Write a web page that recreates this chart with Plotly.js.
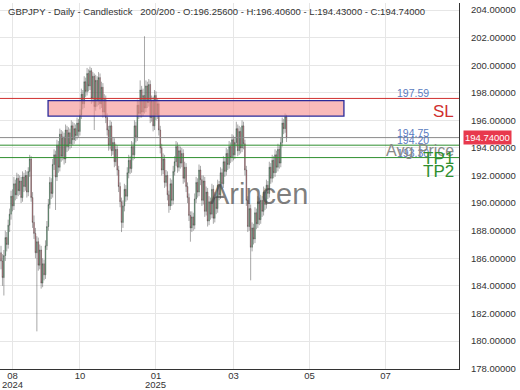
<!DOCTYPE html>
<html>
<head>
<meta charset="utf-8">
<script src="https://cdn.plot.ly/plotly-3.0.1.min.js"></script>
<style>html,body{margin:0;padding:0;background:#fff;}#chart{width:520px;height:390px;}</style>
</head>
<body>
<div id="chart"></div>
<script>
const open = [
186.4,185.8,184.6,186.2,187.5,187.0,188.4,189.2,190.5,189.8,
191.4,190.6,191.8,190.9,191.6,190.4,191.9,191.2,192.0,190.8,
192.3,193.2,190.4,188.6,187.8,186.4,187.2,185.5,186.6,184.2,
185.6,184.8,186.9,188.3,189.9,191.5,190.7,192.8,193.5,191.9,
194.2,192.6,195.0,193.4,194.8,193.2,195.3,194.1,195.1,194.3,
195.6,194.6,195.4,194.9,195.8,195.2,196.4,197.9,197.2,198.8,
198.1,199.4,198.5,199.6,197.6,199.2,197.0,198.9,197.4,199.1,
197.2,198.4,196.6,197.5,196.2,195.3,194.2,195.6,193.8,194.4,
193.0,193.9,192.4,191.2,190.1,188.6,189.8,191.0,190.5,192.2,
193.1,192.5,194.1,193.5,195.6,194.8,197.1,196.5,198.2,196.6,
197.8,196.9,198.5,197.3,198.6,196.2,197.4,195.6,197.8,196.4,
197.2,195.3,194.0,192.4,193.2,191.5,192.0,190.6,189.8,191.4,
190.2,192.3,193.0,194.1,192.6,193.8,192.9,193.6,191.8,192.6,
191.2,190.4,189.1,188.2,189.0,188.4,190.3,191.5,190.8,192.4,
191.7,190.2,191.6,189.4,190.8,188.7,190.1,189.2,191.0,188.9,
190.4,189.6,191.3,190.6,192.2,191.4,193.0,192.3,193.6,192.8,
194.1,193.3,194.6,193.5,194.4,195.4,193.8,195.2,194.0,195.6,
194.3,192.4,190.2,188.3,189.6,186.8,188.2,187.4,189.3,188.5,
190.1,188.8,190.2,189.4,190.8,189.9,191.3,190.7,192.6,191.8,
193.1,192.2,193.5,192.6,193.9,192.9,194.4,195.8,195.4,196.256];
const high = [
186.9,186.3,186.6,188.0,187.9,188.8,189.6,190.9,191.0,191.9,
191.7,192.2,192.1,192.0,191.9,192.3,192.2,192.4,192.3,192.6,
193.5,193.4,190.8,189.1,188.2,187.6,187.5,187.0,186.9,186.0,
185.9,187.3,188.7,190.3,191.9,191.8,193.2,193.9,193.8,194.6,
194.5,195.4,195.3,195.2,195.1,195.7,195.6,195.5,195.4,196.0,
195.9,195.8,195.7,196.2,196.1,196.8,198.3,198.2,199.2,199.1,
199.8,199.7,199.9,199.8,199.5,199.4,199.3,199.2,199.5,199.4,
198.8,198.7,197.9,197.8,196.5,195.6,196.0,195.9,194.8,194.7,
194.3,194.2,192.7,191.5,190.4,190.2,191.4,191.3,192.6,193.5,
193.4,194.5,194.4,196.0,195.9,197.5,197.4,198.9,198.5,198.3,
202.1,198.9,198.8,199.0,198.9,197.8,197.7,198.2,198.1,197.6,
197.5,195.6,194.3,193.6,193.5,192.4,192.3,190.9,191.8,191.7,
192.7,193.4,194.5,194.4,194.2,194.1,194.0,193.9,193.0,192.9,
191.5,190.7,189.4,189.4,189.3,190.7,191.9,191.8,192.8,192.7,
192.0,192.0,191.9,191.2,191.1,190.5,190.4,191.4,191.3,190.8,
190.7,191.7,191.6,192.6,192.5,193.4,193.3,194.0,193.9,194.5,
194.4,195.0,194.9,194.8,195.9,195.7,195.6,195.5,196.0,195.9,
194.6,192.7,190.5,190.0,189.9,188.6,188.5,189.7,189.6,190.5,
190.4,190.6,190.5,191.2,191.1,191.7,191.6,193.0,192.9,193.5,
193.4,193.9,193.8,194.3,194.2,194.8,196.2,196.1,196.5,196.406];
const low = [
185.2,184.0,183.3,185.8,186.5,186.7,187.9,188.8,189.4,189.5,
190.2,190.3,190.5,190.6,190.0,190.1,190.8,190.9,190.4,190.5,
191.9,190.1,188.2,187.4,186.0,180.7,185.1,185.2,183.8,183.9,
184.4,184.5,186.6,188.0,189.6,190.3,190.4,192.4,189.5,191.6,
192.2,192.3,193.0,193.1,192.8,192.9,193.7,193.8,193.9,194.0,
194.2,194.3,194.5,194.6,194.8,194.9,196.1,196.8,196.9,197.7,
197.8,198.1,198.2,197.2,197.3,195.3,196.7,197.0,197.1,196.8,
196.9,196.2,196.3,195.8,194.9,193.8,193.9,193.4,193.5,192.6,
192.7,192.0,190.8,189.7,187.9,188.2,189.4,190.1,190.2,191.8,
192.1,192.2,193.1,193.2,194.4,194.5,196.1,196.2,196.2,196.3,
196.5,196.6,196.9,197.0,195.8,195.9,195.2,195.3,196.0,196.1,
194.9,193.6,192.0,192.1,191.1,191.2,190.2,189.3,189.5,189.8,
189.9,192.0,192.7,192.2,192.3,192.5,192.6,191.4,191.5,190.8,
190.0,188.7,187.2,187.9,188.0,188.1,190.0,190.4,190.5,191.3,
189.8,189.9,189.0,189.1,188.3,188.4,188.8,188.9,188.5,188.6,
189.2,189.3,190.2,190.3,191.0,191.1,191.9,192.0,192.4,192.5,
192.9,193.0,193.1,193.2,194.1,193.4,193.5,193.6,193.7,193.9,
192.0,189.8,187.9,188.0,184.4,186.5,187.0,187.1,188.1,188.2,
188.4,188.5,189.0,189.1,189.5,189.6,190.3,190.4,191.4,191.5,
191.8,191.9,192.2,192.3,192.5,192.6,194.1,195.0,195.1,194.43];
const close = [
185.8,184.6,186.2,187.5,187.0,188.4,189.2,190.5,189.8,191.4,
190.6,191.8,190.9,191.6,190.4,191.9,191.2,192.0,190.8,192.3,
193.2,190.4,188.6,187.8,186.4,187.2,185.5,186.6,184.2,185.6,
184.8,186.9,188.3,189.9,191.5,190.7,192.8,193.5,191.9,194.2,
192.6,195.0,193.4,194.8,193.2,195.3,194.1,195.1,194.3,195.6,
194.6,195.4,194.9,195.8,195.2,196.4,197.9,197.2,198.8,198.1,
199.4,198.5,199.6,197.6,199.2,197.0,198.9,197.4,199.1,197.2,
198.4,196.6,197.5,196.2,195.3,194.2,195.6,193.8,194.4,193.0,
193.9,192.4,191.2,190.1,188.6,189.8,191.0,190.5,192.2,193.1,
192.5,194.1,193.5,195.6,194.8,197.1,196.5,198.2,196.6,197.8,
196.9,198.5,197.3,198.6,196.2,197.4,195.6,197.8,196.4,197.2,
195.3,194.0,192.4,193.2,191.5,192.0,190.6,189.8,191.4,190.2,
192.3,193.0,194.1,192.6,193.8,192.9,193.6,191.8,192.6,191.2,
190.4,189.1,188.2,189.0,188.4,190.3,191.5,190.8,192.4,191.7,
190.2,191.6,189.4,190.8,188.7,190.1,189.2,191.0,188.9,190.4,
189.6,191.3,190.6,192.2,191.4,193.0,192.3,193.6,192.8,194.1,
193.3,194.6,193.5,194.4,195.4,193.8,195.2,194.0,195.6,194.3,
192.4,190.2,188.3,189.6,186.8,188.2,187.4,189.3,188.5,190.1,
188.8,190.2,189.4,190.8,189.9,191.3,190.7,192.6,191.8,193.1,
192.2,193.5,192.6,193.9,192.9,194.4,195.8,195.4,196.26,194.74];

// x-axis month ticks (bar index where label is shown) and labels
const tickIndex = [8, 55, 108, 162, 215, 268];
const tickLabels = ["08", "10", "01", "03", "05", "07"];
// year sub-labels under the first month of each year
const yearIndex = [8, 108];
const yearLabels = ["2024", "2025"];

// trade levels
const levelNames = ["SL", "Avg Price", "TP1", "TP2"];
const levelValues = [197.59, 194.75, 194.20, 193.30];
const levelLabels = ["197.59", "194.75", "194.20", "193.30"];
// supply zone
const zoneBars = [32.8, 239];
const zonePrices = [196.31, 197.43];

const lastClose = 194.74;
const lastCloseLabel = "194.74000";
const titleText = "GBPJPY - Daily - Candlestick &nbsp; 200/200 - O:196.25600 - H:196.40600 - L:194.43000 - C:194.74000";

const levelColors = ["#d0302f", "#8a8a8a", "#2f8f2f", "#2f8f2f"];
const fontFam = "Liberation Sans, Arial, sans-serif";

const xIdx = close.map((_, i) => i);

const trace = {
  type: "candlestick",
  x: xIdx, open: open, high: high, low: low, close: close,
  increasing: {line: {color: "rgba(50,50,50,0.85)", width: 0.5}, fillcolor: "#5fbf80"},
  decreasing: {line: {color: "rgba(50,50,50,0.85)", width: 0.5}, fillcolor: "#e87a85"},
  whiskerwidth: 0,
  hoverinfo: "none",
  showlegend: false
};

const shapes = [{
  type: "rect", xref: "x", yref: "y",
  x0: zoneBars[0], x1: zoneBars[1], y0: zonePrices[0], y1: zonePrices[1],
  fillcolor: "rgba(245,140,140,0.6)", line: {color: "#2a2a9a", width: 1.3}, layer: "above"
}];
levelValues.forEach((v, k) => {
  shapes.push({type: "line", xref: "paper", yref: "y", x0: 0, x1: 1, y0: v, y1: v,
    line: {color: levelColors[k], width: 1}, layer: "above"});
});

const annotations = [];
levelValues.forEach((v, k) => {
  annotations.push({xref: "paper", yref: "y", x: 0.86, y: v, xanchor: "left", yanchor: "bottom",
    text: levelLabels[k], showarrow: false, yshift: -3,
    font: {family: fontFam, size: 10.5, color: "#5a7cc0"}});
});
levelValues.forEach((v, k) => {
  annotations.push({xref: "paper", yref: "y", x: 0.993, y: v, xanchor: "right", yanchor: "top",
    text: levelNames[k], showarrow: false, yshift: -2,
    font: {family: fontFam, size: k === 1 ? 16 : 17, color: levelColors[k]}});
});
yearIndex.forEach((xi, k) => {
  annotations.push({xref: "x", yref: "paper", x: xi, y: 0, xanchor: "center", yanchor: "top",
    yshift: -8, text: yearLabels[k], showarrow: false,
    font: {family: fontFam, size: 9.5, color: "#333333"}});
});
annotations.push({xref: "paper", yref: "y", x: 1, y: lastClose, xanchor: "left", yanchor: "middle",
  xshift: 4, text: lastCloseLabel, showarrow: false, bgcolor: "#e8394d", borderpad: 1,
  font: {family: fontFam, size: 9.5, color: "#ffffff"}});
annotations.push({xref: "paper", yref: "paper", x: 0, y: 1, xanchor: "left", yanchor: "top",
  xshift: 6, yshift: -1, text: titleText, showarrow: false,
  font: {family: fontFam, size: 9.5, color: "#333333"}});
annotations.push({xref: "paper", yref: "paper", x: 0.564, y: 0.477, xanchor: "center", yanchor: "middle",
  text: "Arincen", showarrow: false,
  font: {family: fontFam, size: 29, color: "rgba(70,70,70,0.7)"}});

const layout = {
  width: 520, height: 390,
  margin: {l: 0, r: 61, t: 3, b: 21, pad: 0},
  paper_bgcolor: "#ffffff", plot_bgcolor: "#ffffff",
  showlegend: false,
  xaxis: {
    range: [-0.7, 319.2], rangeslider: {visible: false},
    tickmode: "array", tickvals: tickIndex, ticktext: tickLabels,
    showgrid: true, gridcolor: "#e6e6e6", zeroline: false,
    showline: true, linecolor: "#333333", linewidth: 1,
    ticks: "", ticklabelstandoff: -2,
    tickfont: {family: fontFam, size: 9.5, color: "#333333"}
  },
  yaxis: {
    side: "right", range: [177.97, 204.51],
    tick0: 178, dtick: 2, tickformat: ".5f",
    showgrid: true, gridcolor: "#e6e6e6", zeroline: false,
    showline: true, linecolor: "#333333", linewidth: 1,
    ticks: "", ticklabelstandoff: 9,
    tickfont: {family: fontFam, size: 9.5, color: "#333333"}
  },
  shapes: shapes,
  annotations: annotations
};

Plotly.newPlot("chart", [trace], layout, {staticPlot: true, displayModeBar: false});
</script>
</body>
</html>
